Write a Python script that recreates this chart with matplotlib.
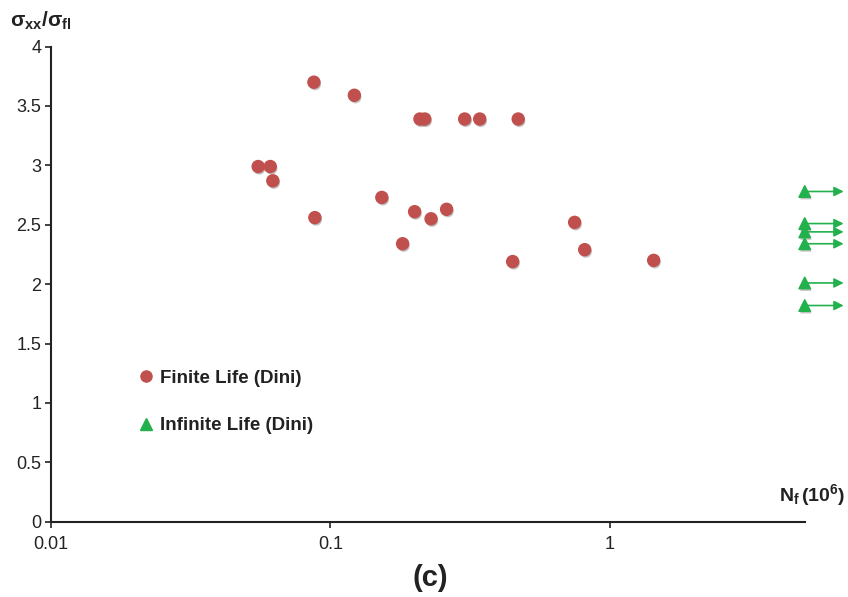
import matplotlib
matplotlib.use("Agg")
import matplotlib.pyplot as plt
import matplotlib.patheffects as pe
from matplotlib.lines import Line2D

plt.rcParams['font.family'] = ['Liberation Sans', 'DejaVu Sans']
plt.rcParams['mathtext.fontset'] = 'custom'
plt.rcParams['mathtext.rm'] = 'Liberation Sans'
plt.rcParams['mathtext.it'] = 'Liberation Sans'
plt.rcParams['mathtext.bf'] = 'Liberation Sans:bold'

# Finite life points (Dini): cycles to failure (10^6) vs stress ratio
finite_n = [0.0874, 0.122, 0.2095, 0.218, 0.303, 0.343, 0.471,
            0.0552, 0.0610, 0.0623, 0.153, 0.0881, 0.2005, 0.2296,
            0.261, 0.1816, 0.450, 0.750, 0.815, 1.439]
finite_s = [3.70, 3.59, 3.39, 3.39, 3.39, 3.39, 3.39,
            2.99, 2.99, 2.87, 2.73, 2.56, 2.61, 2.55,
            2.63, 2.34, 2.19, 2.52, 2.29, 2.20]

# Infinite life (run-outs) at the end of the test
runout_n = [5.0, 5.0, 5.0, 5.0, 5.0, 5.0]
runout_s = [2.78, 2.51, 2.44, 2.34, 2.01, 1.82]

red = '#c0504d'
green = '#22b14c'
shadow = [pe.SimplePatchShadow(offset=(0.8, -1.5), shadow_rgbFace='#555555', alpha=0.35), pe.Normal()]

fig = plt.figure(figsize=(8.48, 5.97), dpi=100)
ax = fig.add_axes([0.0601, 0.1261, 0.8889, 0.7959])

ax.scatter(finite_n, finite_s, s=75, color=red, zorder=3, path_effects=shadow)
ax.scatter(runout_n, runout_s, s=70, marker='^', color=green, zorder=3,
           clip_on=False, path_effects=shadow)
for n, s in zip(runout_n, runout_s):
    ax.annotate('', xy=(n, s), xytext=(28, 0), textcoords='offset points',
                annotation_clip=False,
                arrowprops=dict(arrowstyle='<|-', color=green, lw=1.2,
                                shrinkA=0, shrinkB=0, mutation_scale=14))

ax.set_xscale('log')
ax.set_xlim(0.01, 5)
ax.set_ylim(0, 4)
ax.set_xticks([0.01, 0.1, 1])
ax.set_xticklabels(['0.01', '0.1', '1'])
ax.set_yticks([0, 0.5, 1, 1.5, 2, 2.5, 3, 3.5, 4])
ax.set_yticklabels(['0', '0.5', '1', '1.5', '2', '2.5', '3', '3.5', '4'])
ax.minorticks_off()
ax.tick_params(axis='both', labelsize=13, colors='#222222', length=4, width=1.2)
ax.tick_params(axis='x', pad=6)
ax.tick_params(axis='y', pad=3)

for side in ['top', 'right']:
    ax.spines[side].set_visible(False)
for side in ['left', 'bottom']:
    ax.spines[side].set_linewidth(1.5)
    ax.spines[side].set_color('#222222')

handles = [
    Line2D([], [], marker='o', linestyle='none', color=red, markersize=8),
    Line2D([], [], marker='^', linestyle='none', color=green, markersize=8),
]
ax.legend(handles, ['Finite Life (Dini)', 'Infinite Life (Dini)'],
          loc='upper left', bbox_to_anchor=(0.091, 0.356), frameon=False,
          prop={'weight': 'bold', 'size': 13.5}, labelcolor='#222222',
          labelspacing=1.62, handlelength=1.0, handletextpad=0.25)

fig.text(0.012, 0.965, r'$\mathbf{σ_{xx}/σ_{fl}}$', fontsize=15, color='#222222',
         ha='left', va='center')
fig.text(0.919, 0.16, r'$\mathbf{N_f\,(10^6)}$', fontsize=14, color='#222222',
         ha='left', va='baseline')
fig.text(0.507, 0.032, '(c)', fontsize=21, fontweight='bold', color='#222222',
         ha='center', va='center')

fig.savefig('out.png', dpi=100)
